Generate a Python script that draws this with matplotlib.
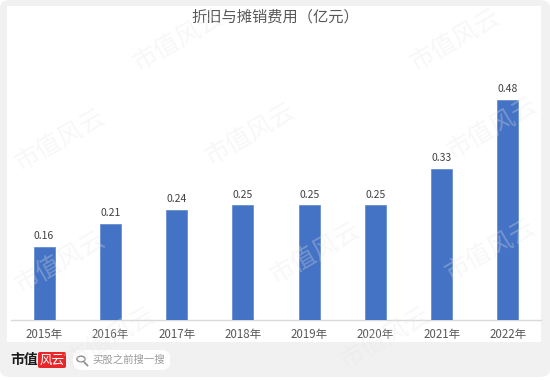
import matplotlib.pyplot as plt
from matplotlib.patches import FancyBboxPatch, Rectangle, Circle
from matplotlib.lines import Line2D

plt.rcParams['font.family'] = ['Noto Sans CJK SC', 'DejaVu Sans']

# data
years = ['2015年', '2016年', '2017年', '2018年', '2019年', '2020年', '2021年', '2022年']
values = [0.16, 0.21, 0.24, 0.25, 0.25, 0.25, 0.33, 0.48]
value_labels = ['0.16', '0.21', '0.24', '0.25', '0.25', '0.25', '0.33', '0.48']

W, H = 550, 380
fig = plt.figure(figsize=(5.5, 3.8), dpi=100, facecolor='white')

def fx(x):
    return x / W

def fy(y):
    return 1 - y / H

# outer gray card and white chart panel
fig.patches.append(FancyBboxPatch((fx(0), fy(377)), fx(550), 377 / H,
                                  boxstyle='round,pad=0,rounding_size=0.02',
                                  transform=fig.transFigure, facecolor='#f1f1f1',
                                  edgecolor='none', zorder=-3))
fig.patches.append(Rectangle((fx(7), fy(342)), fx(534), 336 / H,
                             transform=fig.transFigure, facecolor='white',
                             edgecolor='none', zorder=-2))

# chart
ax = fig.add_axes([fx(11), fy(320), fx(530), 280 / H])
ax.set_facecolor('none')
x = range(len(years))
bars = ax.bar(x, values, width=0.32, color='#4472C4', edgecolor='#5a86d0',
              linewidth=0.5, zorder=3)
for b, lab in zip(bars, value_labels):
    ax.annotate(lab, (b.get_x() + b.get_width() / 2, b.get_height()),
                xytext=(0, 4), textcoords='offset points', ha='center',
                va='bottom', fontsize=7.5, color='#404040')

ax.set_xlim(-0.5, len(years) - 0.5)
ax.set_ylim(0, 0.611)
ax.set_xticks(list(x))
ax.set_xticklabels(years, fontsize=8.3, color='#595959')
ax.tick_params(axis='x', length=0, pad=6)
ax.set_yticks([])
for s in ['top', 'right', 'left']:
    ax.spines[s].set_visible(False)
ax.spines['bottom'].set_color('#d9d9d9')
ax.spines['bottom'].set_linewidth(1)

fig.text(0.5, fy(17), '折旧与摊销费用（亿元）', ha='center', va='center',
         fontsize=11, color='#595959')

# watermark
marks = [(178, 40), (455, 40), (250, 134), (492, 128), (60, 140),
         (60, 262), (315, 253), (490, 250), (110, 338), (385, 338)]
for mx, my in marks:
    fig.text(fx(mx), fy(my), '市值风云', ha='center', va='center', fontsize=18,
             fontweight='light', rotation=30, color='#e6e6e6', alpha=0.3,
             zorder=10)

# bottom brand bar
fig.text(fx(10), fy(360), '市值', ha='left', va='center', fontsize=10,
         fontweight='bold', color='#1a1a1a')
fig.patches.append(FancyBboxPatch((fx(38), fy(368)), fx(28), 16 / H,
                                  boxstyle='round,pad=0,rounding_size=0.004',
                                  transform=fig.transFigure, facecolor='#e8272b',
                                  edgecolor='none', zorder=2))
fig.text(fx(52), fy(360), '风云', ha='center', va='center', fontsize=9,
         style='italic', color='white', zorder=3)
fig.patches.append(FancyBboxPatch((fx(73), fy(370)), fx(97), 20 / H,
                                  boxstyle='round,pad=0,rounding_size=0.018',
                                  transform=fig.transFigure, facecolor='white',
                                  edgecolor='none', zorder=2))
fig.patches.append(Circle((fx(81), fy(359)), 0.0075, transform=fig.transFigure,
                          facecolor='none', edgecolor='#8a8a8a', linewidth=1, zorder=3))
fig.lines.append(Line2D([fx(84.5), fx(87.5)], [fy(362.5), fy(365.5)],
                        transform=fig.transFigure, color='#8a8a8a', linewidth=1.2, zorder=3))
fig.text(fx(92), fy(360), '买股之前搜一搜', ha='left', va='center', fontsize=7.5,
         color='#9a9a9a', zorder=3)

fig.savefig('out.png', dpi=100, facecolor='white')
